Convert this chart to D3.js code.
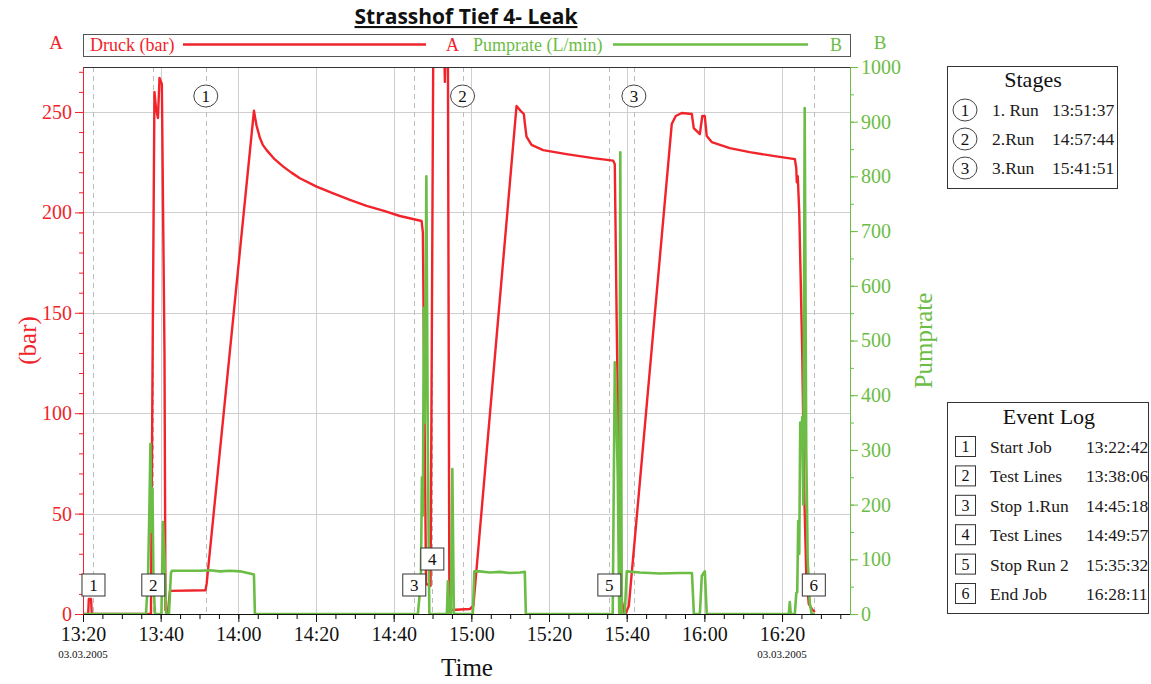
<!DOCTYPE html>
<html>
<head>
<meta charset="utf-8">
<script src="https://cdn.jsdelivr.net/npm/d3@7"></script>
<style>
body { margin: 0; background: #fff; }
text { font-family: "Liberation Serif", "Times New Roman", serif; }
</style>
</head>
<body>
<div id="chart"></div>
<script>
// pressure (bar) readings, axis A
var pressure = [
  ["13:20:00", 0], ["13:21:20", 0], ["13:21:30", 7.5], ["13:22:05", 7.5], ["13:22:15", 0],
  ["13:37:30", 0], ["13:38:00", 150], ["13:38:24", 260], ["13:38:47", 252], ["13:39:18", 247],
  ["13:39:42", 267], ["13:40:18", 264], ["13:40:59", 130], ["13:41:14", 2], ["13:41:53", 1],
  ["13:42:23", 11.5], ["13:51:32", 11.8], ["13:51:50", 15], ["14:04:01", 250.6], ["14:04:20", 247],
  ["14:04:43", 243], ["14:05:34", 237], ["14:06:20", 233.5], ["14:07:17", 231], ["14:09:20", 226.5],
  ["14:11:34", 222.8], ["14:13:40", 219.8], ["14:15:51", 217], ["14:20:09", 212.8],
  ["14:24:26", 209.5], ["14:28:44", 206.2], ["14:33:01", 203.2], ["14:37:18", 200.9], ["14:41:36", 198.2],
  ["14:47:11", 195.7], ["14:47:31", 190], ["14:48:20", 15], ["14:49:30", 14], ["14:50:13", 290],
  ["14:52:55", 290], ["14:53:11", 265], ["14:53:26", 290], ["14:53:57", 290], ["14:54:20", 12],
  ["14:54:43", 2], ["14:59:37", 2.5], ["15:00:31", 4], ["15:11:38", 253], ["15:12:40", 250.6],
  ["15:13:31", 249], ["15:13:46", 244.5], ["15:14:12", 237.7], ["15:15:30", 233.6], ["15:18:29", 231],
  ["15:24:30", 229], ["15:31:21", 227], ["15:36:30", 225.8], ["15:36:56", 224], ["15:37:27", 141],
  ["15:37:58", 72], ["15:38:44", 7], ["15:39:15", 1], ["15:39:46", 0.5], ["15:40:33", 4],
  ["15:51:36", 244], ["15:52:38", 248], ["15:54:10", 249.5], ["15:56:46", 249], ["15:57:16", 242],
  ["15:58:50", 239], ["15:59:28", 248], ["16:00:06", 248], ["16:00:37", 238], ["16:01:54", 235],
  ["16:06:32", 232], ["16:11:40", 230], ["16:18:07", 228], ["16:23:18", 226.5], ["16:23:40", 222],
  ["16:23:48", 215], ["16:24:03", 218], ["16:24:26", 200], ["16:25:12", 130], ["16:25:43", 60],
  ["16:26:14", 20], ["16:26:53", 5], ["16:27:40", 2.5], ["16:28:27", 1]
];

// pump rate (L/min) readings, axis B
var pumprate = [
  ["13:20:00", 0], ["13:36:13", 0], ["13:36:44", 60], ["13:37:07", 200], ["13:37:22", 311],
  ["13:37:38", 150], ["13:37:53", 230], ["13:38:09", 60], ["13:38:32", 0], ["13:40:12", 0],
  ["13:40:36", 168], ["13:41:00", 100], ["13:41:24", 0], ["13:42:08", 0], ["13:42:39", 75],
  ["13:42:54", 79], ["13:50:06", 79], ["13:52:41", 80], ["13:55:16", 78], ["13:57:50", 79],
  ["14:00:25", 78], ["14:02:59", 74], ["14:04:01", 72], ["14:04:16", 0], ["14:46:14", 0],
  ["14:47:00", 60], ["14:47:16", 250], ["14:47:31", 180], ["14:47:46", 560], ["14:48:01", 350],
  ["14:48:25", 800], ["14:48:48", 300], ["14:49:11", 0], ["14:53:42", 0], ["14:53:57", 60],
  ["14:54:12", 0], ["14:54:43", 0], ["14:55:06", 265], ["14:55:30", 0], ["15:00:23", 0],
  ["15:00:46", 78], ["15:02:11", 78], ["15:04:46", 76], ["15:07:20", 77], ["15:09:54", 75],
  ["15:12:29", 76], ["15:13:46", 77], ["15:14:02", 0], ["15:36:24", 0], ["15:36:56", 460],
  ["15:37:18", 380], ["15:37:42", 250], ["15:38:05", 0], ["15:38:21", 844], ["15:38:44", 0],
  ["15:39:30", 0], ["15:40:01", 78], ["15:43:22", 76], ["15:48:31", 74], ["15:53:40", 75],
  ["15:56:48", 75], ["15:57:18", 0], ["15:58:50", 0], ["15:59:21", 70], ["16:00:07", 78],
  ["16:00:37", 0], ["16:21:44", 0], ["16:22:00", 22], ["16:22:15", 0], ["16:23:18", 0],
  ["16:23:40", 38], ["16:23:55", 40], ["16:24:10", 170], ["16:24:26", 110], ["16:24:41", 350],
  ["16:24:57", 300], ["16:25:12", 360], ["16:25:28", 200], ["16:25:50", 925], ["16:26:14", 300],
  ["16:26:36", 100], ["16:27:08", 20], ["16:27:38", 0], ["16:28:27", 0]
];

var eventIds = [1, 2, 3, 4, 5, 6];
var eventNames = ["Start Job", "Test Lines", "Stop 1.Run", "Test Lines", "Stop Run 2", "End Job"];
var eventTimes = ["13:22:42", "13:38:06", "14:45:18", "14:49:57", "15:35:32", "16:28:11"];

var stageIds = [1, 2, 3];
var stageNames = ["1. Run", "2.Run", "3.Run"];
var stageTimes = ["13:51:37", "14:57:44", "15:41:51"];

var pressureTicks = [0, 50, 100, 150, 200, 250];
var pumpTicks = [0, 100, 200, 300, 400, 500, 600, 700, 800, 900, 1000];
var timeStart = "13:20:00", timeEnd = "16:37:30";
var dateLabel = "03.03.2005";

var RED = "#f0242a", GREEN = "#6cbd45";

// set the dimensions and margins of the graph
var margin = {top: 67, right: 301, bottom: 70, left: 83},
    width = 1151 - margin.left - margin.right,
    height = 684 - margin.top - margin.bottom;

var parseTime = d3.timeParse("%H:%M:%S");

var x = d3.scaleTime().domain([parseTime(timeStart), parseTime(timeEnd)]).range([0, width]);
var yL = d3.scaleLinear().domain([0, 272.4]).range([height, 0]);
var yR = d3.scaleLinear().domain([0, 1000]).range([height, 0]);

var root = d3.select("#chart").append("svg")
    .attr("width", 1151)
    .attr("height", 684);

var svg = root.append("g")
    .attr("transform", "translate(" + margin.left + "," + margin.top + ")");

// title
root.append("text")
    .attr("x", 466).attr("y", 24)
    .attr("text-anchor", "middle")
    .style("font-family", "'Open Sans', 'DejaVu Sans', sans-serif")
    .style("font-weight", "bold")
    .style("font-size", "21px")
    .style("text-decoration", "underline")
    .attr("fill", "#111")
    .text("Strasshof Tief 4- Leak");

// legend strip
var leg = root.append("g");
leg.append("rect").attr("x", 83.5).attr("y", 34.5).attr("width", width).attr("height", 22)
    .attr("fill", "#fff").attr("stroke", "#555");
leg.append("text").attr("x", 90).attr("y", 51).attr("fill", RED).style("font-size", "18px").text("Druck (bar)");
leg.append("line").attr("x1", 183).attr("x2", 426).attr("y1", 44.5).attr("y2", 44.5)
    .attr("stroke", RED).attr("stroke-width", 2.5);
leg.append("text").attr("x", 446).attr("y", 51).attr("fill", RED).style("font-size", "18px").text("A");
leg.append("text").attr("x", 473).attr("y", 51).attr("fill", GREEN).style("font-size", "18px").text("Pumprate (L/min)");
leg.append("line").attr("x1", 613).attr("x2", 808).attr("y1", 44.5).attr("y2", 44.5)
    .attr("stroke", GREEN).attr("stroke-width", 2.5);
leg.append("text").attr("x", 830).attr("y", 51).attr("fill", GREEN).style("font-size", "18px").text("B");
leg.append("text").attr("x", 56).attr("y", 49).attr("text-anchor", "middle").attr("fill", RED).style("font-size", "19px").text("A");
leg.append("text").attr("x", 880).attr("y", 49).attr("text-anchor", "middle").attr("fill", GREEN).style("font-size", "19px").text("B");

// grid
svg.append("g")
    .selectAll("line.hgrid")
    .data(pressureTicks.slice(1))
  .enter().append("line")
    .attr("x1", 0).attr("x2", width)
    .attr("y1", function(d) { return Math.round(yL(d)) + 0.5; })
    .attr("y2", function(d) { return Math.round(yL(d)) + 0.5; })
    .attr("stroke", "#cfcfcf");

svg.append("g")
    .selectAll("line.vgrid")
    .data(x.ticks(d3.timeMinute.every(20)).slice(1))
  .enter().append("line")
    .attr("y1", 0).attr("y2", height)
    .attr("x1", function(d) { return Math.round(x(d)) + 0.5; })
    .attr("x2", function(d) { return Math.round(x(d)) + 0.5; })
    .attr("stroke", "#cfcfcf");

// dashed marker lines for events and stages
var markTimes = eventTimes.concat(stageTimes);
svg.append("g")
    .selectAll("line")
    .data(markTimes)
  .enter().append("line")
    .attr("y1", 0).attr("y2", height)
    .attr("x1", function(d) { return Math.round(x(parseTime(d))) + 0.5; })
    .attr("x2", function(d) { return Math.round(x(parseTime(d))) + 0.5; })
    .attr("stroke", "#bdbdbd")
    .attr("stroke-dasharray", "5,4");

// clip
svg.append("clipPath").attr("id", "plotclip")
  .append("rect").attr("x", 0).attr("y", 0).attr("width", width).attr("height", height);

var linePress = d3.line()
    .x(function(d) { return x(parseTime(d[0])); })
    .y(function(d) { return yL(d[1]); });
var linePump = d3.line()
    .x(function(d) { return x(parseTime(d[0])); })
    .y(function(d) { return yR(d[1]); });

svg.append("path")
    .datum(pressure)
    .attr("clip-path", "url(#plotclip)")
    .attr("fill", "none")
    .attr("stroke", RED)
    .attr("stroke-width", 2.4)
    .attr("stroke-linejoin", "round")
    .attr("d", linePress);

svg.append("path")
    .datum(pumprate)
    .attr("clip-path", "url(#plotclip)")
    .attr("fill", "none")
    .attr("stroke", GREEN)
    .attr("stroke-width", 2.6)
    .attr("stroke-linejoin", "round")
    .attr("d", linePump);

// top border
svg.append("line").attr("x1", 0).attr("x2", width).attr("y1", 0.5).attr("y2", 0.5).attr("stroke", "#333");

// Add the X Axis (major + minor)
svg.append("g")
    .attr("transform", "translate(0," + height + ")")
    .call(d3.axisBottom(x).ticks(d3.timeMinute.every(5)).tickSize(5).tickSizeOuter(0).tickFormat(""))
    .call(function(g) { g.select(".domain").remove(); });

var xAxis = svg.append("g")
    .attr("class", "xAxis")
    .attr("transform", "translate(0," + height + ")")
    .call(d3.axisBottom(x).ticks(d3.timeMinute.every(20)).tickSize(8).tickSizeOuter(0).tickPadding(5)
      .tickFormat(d3.timeFormat("%H:%M")));
xAxis.selectAll("text").style("font-size", "20px").attr("fill", "#111").style("font-family", "'Liberation Serif', serif");
xAxis.selectAll("line, path").attr("stroke", "#111");

// date under first and last labelled tick
var dateTicks = [timeStart, "16:20:00"];
svg.append("g")
    .selectAll("text")
    .data(dateTicks)
  .enter().append("text")
    .attr("x", function(d) { return x(parseTime(d)); })
    .attr("y", height + 44)
    .attr("text-anchor", "middle")
    .style("font-size", "11px")
    .attr("fill", "#111")
    .text(dateLabel);

svg.append("text")
    .attr("x", 384).attr("y", height + 62)
    .attr("text-anchor", "middle")
    .style("font-size", "25px")
    .attr("fill", "#111")
    .text("Time");

// Add the left Y Axis
svg.append("g")
    .call(d3.axisLeft(yL).tickValues(d3.range(0, 271, 10)).tickSize(4).tickSizeOuter(0).tickFormat(""))
    .call(function(g) { g.selectAll("line, path").attr("stroke", RED); });
var yAxisL = svg.append("g")
    .call(d3.axisLeft(yL).tickValues(pressureTicks).tickSize(8).tickSizeOuter(0).tickPadding(3));
yAxisL.selectAll("line, path").attr("stroke", RED);
yAxisL.selectAll("text").attr("fill", RED).style("font-size", "20px").style("font-family", "'Liberation Serif', serif");

svg.append("text")
    .attr("transform", "translate(-47," + (height / 2) + ") rotate(-90)")
    .attr("text-anchor", "middle")
    .attr("fill", RED)
    .style("font-size", "25px")
    .text("(bar)");

// Add the right Y Axis
svg.append("g")
    .attr("transform", "translate(" + width + ",0)")
    .call(d3.axisRight(yR).tickValues(d3.range(0, 1001, 50)).tickSize(4).tickSizeOuter(0).tickFormat(""))
    .call(function(g) { g.selectAll("line, path").attr("stroke", GREEN); });
var yAxisR = svg.append("g")
    .attr("transform", "translate(" + width + ",0)")
    .call(d3.axisRight(yR).tickValues(pumpTicks).tickSize(8).tickSizeOuter(0).tickPadding(3)
      .tickFormat(d3.format("d")));
yAxisR.selectAll("line, path").attr("stroke", GREEN);
yAxisR.selectAll("text").attr("fill", GREEN).style("font-size", "20px").style("font-family", "'Liberation Serif', serif");

svg.append("text")
    .attr("transform", "translate(" + (width + 82) + "," + (height / 2) + ") rotate(-90)")
    .attr("text-anchor", "middle")
    .attr("fill", GREEN)
    .style("font-size", "25px")
    .text("Pumprate");

// stage circles on the plot
var stageG = svg.selectAll(".stage")
    .data(stageIds)
  .enter().append("g")
    .attr("transform", function(d, i) { return "translate(" + x(parseTime(stageTimes[i])) + ",29)"; });
stageG.append("ellipse").attr("rx", 12).attr("ry", 11).attr("fill", "#fff").attr("stroke", "#444");
stageG.append("text").attr("y", 6).attr("text-anchor", "middle").style("font-size", "17px")
    .attr("fill", "#111").text(function(d) { return d; });

// event boxes on the plot, raise one if it collides with the previous box
var lastX = -100, boxW = 23, boxH = 22;
var eventG = svg.selectAll(".evt")
    .data(eventIds)
  .enter().append("g")
    .attr("transform", function(d, i) {
      var ex = x(parseTime(eventTimes[i]));
      var ey = height - 29;
      if (ex - lastX < boxW) ey -= 26;
      lastX = ex;
      return "translate(" + ex + "," + ey + ")";
    });
eventG.append("rect").attr("x", -boxW / 2).attr("y", -boxH / 2).attr("width", boxW).attr("height", boxH)
    .attr("fill", "#fff").attr("stroke", "#333");
eventG.append("text").attr("y", 6).attr("text-anchor", "middle").style("font-size", "17px")
    .attr("fill", "#111").text(function(d) { return d; });

// Stages box
var sb = root.append("g").attr("transform", "translate(947,66)");
sb.append("rect").attr("x", 0.5).attr("y", 0.5).attr("width", 170).attr("height", 122)
    .attr("fill", "#fff").attr("stroke", "#333");
sb.append("text").attr("x", 86).attr("y", 21).attr("text-anchor", "middle")
    .style("font-size", "22px").attr("fill", "#111").text("Stages");
var sRow = sb.selectAll(".srow").data(stageIds).enter().append("g")
    .attr("transform", function(d, i) { return "translate(0," + (44 + i * 29) + ")"; });
sRow.append("ellipse").attr("cx", 18).attr("rx", 12).attr("ry", 11).attr("fill", "#fff").attr("stroke", "#444");
sRow.append("text").attr("x", 18).attr("y", 6).attr("text-anchor", "middle").style("font-size", "17px")
    .attr("fill", "#111").text(function(d) { return d; });
sRow.append("text").attr("x", 45).attr("y", 6).style("font-size", "17.5px").attr("fill", "#221a1a")
    .text(function(d, i) { return stageNames[i]; });
sRow.append("text").attr("x", 105).attr("y", 6).style("font-size", "17.5px").attr("fill", "#221a1a")
    .text(function(d, i) { return stageTimes[i]; });

// Event Log box
var eb = root.append("g").attr("transform", "translate(947,402)");
eb.append("rect").attr("x", 0.5).attr("y", 0.5).attr("width", 201).attr("height", 211)
    .attr("fill", "#fff").attr("stroke", "#333");
eb.append("text").attr("x", 102).attr("y", 22).attr("text-anchor", "middle")
    .style("font-size", "22px").attr("fill", "#111").text("Event Log");
var eRow = eb.selectAll(".erow").data(eventIds).enter().append("g")
    .attr("transform", function(d, i) { return "translate(0," + (45 + i * 29.4) + ")"; });
eRow.append("rect").attr("x", 8.5).attr("y", -10.5).attr("width", 20).attr("height", 20)
    .attr("fill", "#fff").attr("stroke", "#333");
eRow.append("text").attr("x", 18.5).attr("y", 5).attr("text-anchor", "middle").style("font-size", "16px")
    .attr("fill", "#111").text(function(d) { return d; });
eRow.append("text").attr("x", 43).attr("y", 6).style("font-size", "17.5px").attr("fill", "#221a1a")
    .text(function(d, i) { return eventNames[i]; });
eRow.append("text").attr("x", 139).attr("y", 6).style("font-size", "17.5px").attr("fill", "#221a1a")
    .text(function(d, i) { return eventTimes[i]; });
</script>
</body>
</html>
